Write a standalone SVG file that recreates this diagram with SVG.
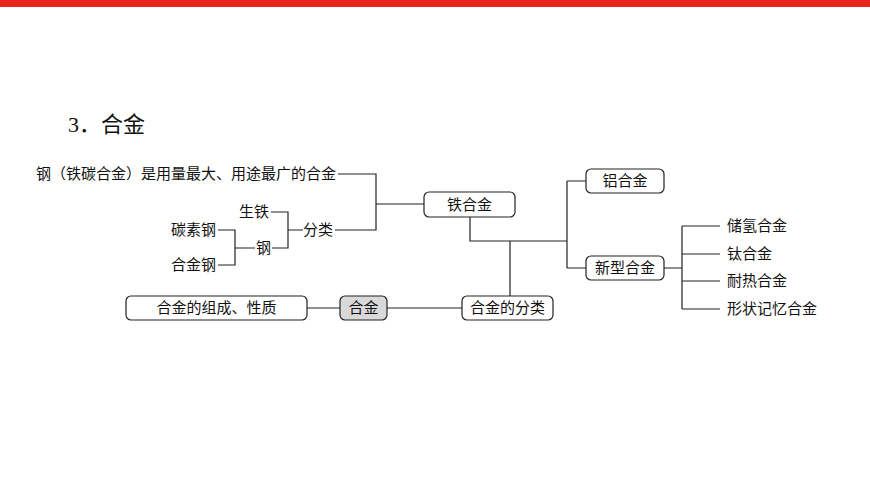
<svg xmlns="http://www.w3.org/2000/svg" width="870" height="489" viewBox="0 0 870 489">
<style>
text{font-family:"Liberation Serif","Noto Sans CJK SC",serif;font-size:15px;fill:#111;dominant-baseline:central}
.b{fill:#fff;stroke:#222;stroke-width:1.2}
.g{fill:#d9d9d9}
.c{text-anchor:middle}
#conn path{fill:none;stroke:#222;stroke-width:1.2}
</style>
<rect x="0" y="0" width="870" height="7" fill="#e8251f"/>
<text x="68" y="124" style="font-size:22px">3．合金</text>
<g id="conn">
<path d="M307 308H340M387 308H462M510 296V241M470 217V241H567M567 181V268M567 181H586M567 268H586"/>
<path d="M664 268H682M682 226V309M682 226H720M682 254H720M682 281H720M682 309H720"/>
<path d="M338 174H376V230H335M376 204H424"/>
<path d="M271 212H288V248H272M288 230H303"/>
<path d="M218 230H235V265H218M235 248H255"/>
</g>
<g id="n-tie"><rect class="b" x="424" y="192" width="91" height="25" rx="5"/><text class="c" x="469.5" y="204.5">铁合金</text></g>
<g id="n-fenlei"><rect class="b" x="462" y="296" width="91" height="24" rx="5"/><text class="c" x="507.5" y="308">合金的分类</text></g>
<g id="n-hejin"><rect class="b g" x="340" y="296" width="47" height="24" rx="5"/><text class="c" x="363.5" y="308">合金</text></g>
<g id="n-zucheng"><rect class="b" x="126" y="296" width="181" height="24" rx="5"/><text class="c" x="216.5" y="308">合金的组成、性质</text></g>
<g id="n-lv"><rect class="b" x="586" y="169" width="78" height="24" rx="5"/><text class="c" x="625" y="181">铝合金</text></g>
<g id="n-xin"><rect class="b" x="586" y="256" width="78" height="24" rx="5"/><text class="c" x="625" y="268">新型合金</text></g>
<g id="n-leaves">
<text x="727" y="226">储氢合金</text>
<text x="727" y="254">钛合金</text>
<text x="727" y="281">耐热合金</text>
<text x="727" y="309">形状记忆合金</text>
<text x="336" y="174" style="text-anchor:end">钢（铁碳合金）是用量最大、用途最广的合金</text>
<text x="333" y="230" style="text-anchor:end">分类</text>
<text x="269" y="212" style="text-anchor:end">生铁</text>
<text x="271" y="248" style="text-anchor:end">钢</text>
<text x="216" y="230" style="text-anchor:end">碳素钢</text>
<text x="216" y="265" style="text-anchor:end">合金钢</text>
</g>
</svg>
